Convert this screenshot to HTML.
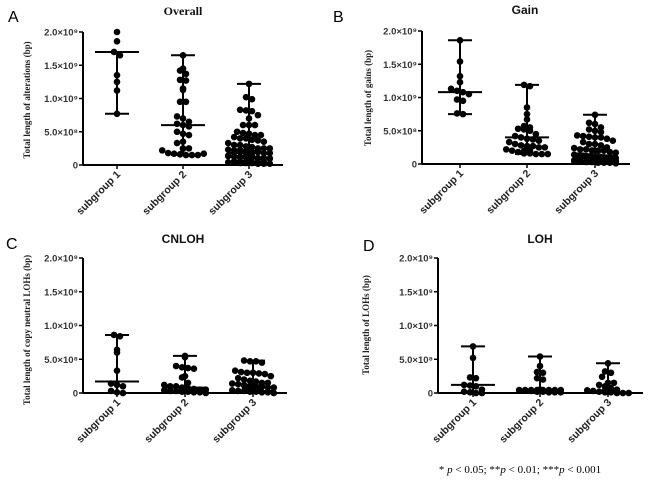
<!DOCTYPE html>
<html><head><meta charset="utf-8"><style>
html,body{margin:0;padding:0;background:#fff;width:650px;height:483px;overflow:hidden}
svg{display:block}
</style></head><body>
<svg id="fig" width="650" height="483" viewBox="0 0 650 483" xmlns="http://www.w3.org/2000/svg"></svg>
<script>
const categories = ["subgroup 1","subgroup 2","subgroup 3"];
const tickValues = [0,0.5,1.0,1.5,2.0];
const tickLabels = ["0","5.0×10⁸","1.0×10⁹","1.5×10⁹","2.0×10⁹"];
const panelTitles = ["Overall","Gain","CNLOH","LOH"];
const panelLetters = ["A","B","C","D"];
const yTitles = ["Total length of alterations (bp)","Total length of gains (bp)","Total length of copy neutral LOHs (bp)","Total length of LOHs (bp)"];
// values in units of 1e9 bp
const overallG1 = [2.0,1.86,1.7,1.65,1.35,1.25,1.12,0.77];
const overallG2 = [1.65,1.45,1.42,1.37,1.28,1.27,1.15,1.13,0.95,0.95,0.73,0.7,0.65,0.62,0.6,0.58,0.5,0.47,0.45,0.35,0.33,0.25,0.25,0.22,0.18,0.17,0.16,0.15,0.15,0.15,0.17,0.2];
const overallG3 = [1.22,1.02,0.99,0.83,0.82,0.81,0.75,0.7,0.6,0.6,0.6,0.5,0.48,0.47,0.45,0.45,0.42,0.4,0.4,0.38,0.37,0.35,0.33,0.3,0.3,0.28,0.27,0.25,0.25,0.25,0.23,0.22,0.22,0.2,0.2,0.2,0.18,0.18,0.18,0.16,0.15,0.15,0.14,0.13,0.12,0.12,0.11,0.1,0.1,0.1,0.09,0.08,0.08,0.07,0.07,0.06,0.06,0.05,0.05,0.05,0.04,0.04,0.03,0.03,0.03,0.02,0.02,0.02,0.01,0.01,0.01,0,0,0];
const gainG1 = [1.86,1.54,1.32,1.23,1.13,1.1,1.08,1.05,0.97,0.95,0.76,0.75];
const gainG2 = [1.19,1.17,0.85,0.75,0.67,0.57,0.55,0.53,0.52,0.5,0.45,0.42,0.4,0.38,0.37,0.35,0.33,0.3,0.28,0.27,0.27,0.25,0.25,0.22,0.2,0.18,0.16,0.16,0.15,0.15,0.15,0.15,0.15];
const gainG3 = [0.74,0.62,0.6,0.55,0.52,0.5,0.48,0.43,0.42,0.41,0.4,0.4,0.38,0.35,0.33,0.3,0.3,0.28,0.25,0.24,0.22,0.22,0.2,0.2,0.2,0.18,0.17,0.16,0.15,0.14,0.13,0.12,0.11,0.1,0.1,0.1,0.09,0.08,0.08,0.07,0.06,0.06,0.05,0.05,0.04,0.04,0.03,0.03,0.02,0.02,0.02,0.01,0.01,0.01,0,0,0,0,0,0];
const cnlohG1 = [0.86,0.84,0.64,0.6,0.33,0.14,0.12,0.1,0.03,0.01,0.0];
const cnlohG2 = [0.55,0.53,0.4,0.38,0.37,0.36,0.25,0.23,0.15,0.12,0.1,0.1,0.08,0.07,0.06,0.05,0.05,0.04,0.03,0.03,0.02,0.02,0.01,0.01,0,0,0];
const cnlohG3 = [0.48,0.47,0.47,0.45,0.33,0.31,0.3,0.3,0.29,0.28,0.25,0.22,0.2,0.18,0.17,0.15,0.15,0.14,0.13,0.12,0.1,0.1,0.1,0.08,0.08,0.07,0.06,0.05,0.05,0.04,0.03,0.03,0.02,0.02,0.01,0.01,0,0,0,0];
const lohG1 = [0.69,0.52,0.23,0.22,0.12,0.11,0.1,0.05,0.02,0.01,0.0,0.0];
const lohG2 = [0.54,0.4,0.31,0.3,0.22,0.2,0.05,0.04,0.04,0.03,0.02,0.02,0.01,0.01,0.01,0,0,0,0,0,0,0,0];
const lohG3 = [0.44,0.32,0.3,0.24,0.15,0.15,0.12,0.1,0.07,0.05,0.04,0.03,0.02,0.01,0.01,0,0,0,0,0];
const medians = [[1.7,0.6,0.18],[1.08,0.4,0.12],[0.17,0.08,0.03],[0.12,0.03,0.01]];
const lows = [[0.77,0.15,0],[0.75,0.15,0],[0,0,0],[0,0,0]];
const highs = [[1.7,1.65,1.22],[1.86,1.19,0.74],[0.86,0.55,0.48],[0.69,0.54,0.44]];
const panelData = [[overallG1,overallG2,overallG3],[gainG1,gainG2,gainG3],[cnlohG1,cnlohG2,cnlohG3],[lohG1,lohG2,lohG3]];

// layout (not data)
const layouts = [
 {ax:83, x1:283, y0:165, y2:32, cx:[117,183,249], tx:183, ty:15, lx:8, ly:22, ytx:30, yty:100},
 {ax:422, x1:630, y0:164, y2:31, cx:[460,527,595], tx:525, ty:14, lx:333, ly:22, ytx:371, yty:98},
 {ax:83, x1:287, y0:393, y2:258, cx:[117,185,253], tx:183, ty:243, lx:6, ly:249, ytx:30, yty:330},
 {ax:438, x1:643, y0:393, y2:258, cx:[473,540,608], tx:540, ty:243, lx:363, ly:251, ytx:369, yty:325}
];
const NS="http://www.w3.org/2000/svg";
const svg=document.getElementById('fig');
function mk(tag,attrs,parent){const e=document.createElementNS(NS,tag);for(const k in attrs)e.setAttribute(k,attrs[k]);(parent||svg).appendChild(e);return e;}

panelData.forEach((groups,p)=>{
  const L=layouts[p];
  const g=mk('g',{});
  
  
  const yS=v=>L.y0-(v/2.0)*(L.y0-L.y2);
  const letter=mk('text',{x:L.lx,y:L.ly,'font-family':'Liberation Sans, sans-serif','font-size':16,fill:'#000'},g);
  letter.textContent=panelLetters[p];
  
  
  const title=mk('text',{x:L.tx,y:L.ty,'text-anchor':'middle','font-family':p==0?'Liberation Serif, serif':'Liberation Sans, sans-serif','font-weight':'bold','font-size':12,fill:'#111'},g);
  title.textContent=panelTitles[p];
  
  
  const yt=mk('text',{x:0,y:0,transform:`translate(${L.ytx},${L.yty}) rotate(-90)`,'text-anchor':'middle','font-family':'Liberation Serif, serif','font-weight':'bold','font-size':9,fill:'#222'},g);
  yt.textContent=yTitles[p];
  
  
  const yax=mk('line',{x1:L.ax,x2:L.ax,y1:L.y2,y2:L.y0,stroke:'#000','stroke-width':2},g);
  
  
  const xax=mk('line',{x1:L.ax,x2:L.x1,y1:L.y0,y2:L.y0,stroke:'#000','stroke-width':2},g);
  
  
  tickValues.forEach((v,i)=>{
    const y=yS(v);
    mk('line',{x1:L.ax-4,x2:L.ax,y1:y,y2:y,stroke:'#000','stroke-width':1.5},g);
    const t=mk('text',{x:L.ax-5,y:y+3.5,'text-anchor':'end','font-family':'Liberation Sans, sans-serif','font-weight':'bold','font-size':9.5,fill:'#333'},g);
    t.textContent=tickLabels[i];
    
    
  });
  groups.forEach((vals,gi)=>{
    const cx=L.cx[gi];
    mk('line',{x1:cx,x2:cx,y1:L.y0,y2:L.y0+4,stroke:'#000','stroke-width':1.5},g);
    const xl=mk('text',{x:0,y:0,transform:`translate(${cx+4},${L.y0+10}) rotate(-45)`,'text-anchor':'end','font-family':'Liberation Sans, sans-serif','font-weight':'bold','font-size':10.5,fill:'#222'},g);
    xl.textContent=categories[gi];
    
    
    // binned scatter (GraphPad-style)
    const r=3.3, bin=2*r, maxRow=8, step=2*r*0.9;
    const bins={};
    vals.forEach(v=>{const b=Math.round((L.y0-yS(v))/bin);(bins[b]=bins[b]||[]).push(v);});
    Object.keys(bins).forEach(b=>{
      const arr=bins[b];
      for(let i=0;i<arr.length;i++){
        const row=Math.floor(i/maxRow);
        const inRow=Math.min(maxRow,arr.length-row*maxRow);
        const k=i%maxRow;
        const off=(k-(inRow-1)/2)*step;
        const y=yS(arr[i])-row*r*0.9;
        const c=mk('circle',{cx:cx+off,cy:y,r:r,fill:'#000'},g);
        
        
      }
    });
    const lo=yS(lows[p][gi]), hi=yS(highs[p][gi]), md=yS(medians[p][gi]);
    const ws=mk('line',{x1:cx,x2:cx,y1:lo,y2:hi,stroke:'#000','stroke-width':2},g);
    
    
    mk('line',{x1:cx-12,x2:cx+12,y1:lo,y2:lo,stroke:'#000','stroke-width':2},g);
    mk('line',{x1:cx-12,x2:cx+12,y1:hi,y2:hi,stroke:'#000','stroke-width':2},g);
    const ml=mk('line',{x1:cx-22,x2:cx+22,y1:md,y2:md,stroke:'#000','stroke-width':2},g);
    
    
  });
});
const fn=mk('text',{x:520,y:473,'text-anchor':'middle','font-family':'Liberation Serif, serif','font-size':11,fill:'#000'});


fn.innerHTML='* <tspan font-style="italic">p</tspan> &lt; 0.05; **<tspan font-style="italic">p</tspan> &lt; 0.01; ***<tspan font-style="italic">p</tspan> &lt; 0.001';
</script>
</body></html>
